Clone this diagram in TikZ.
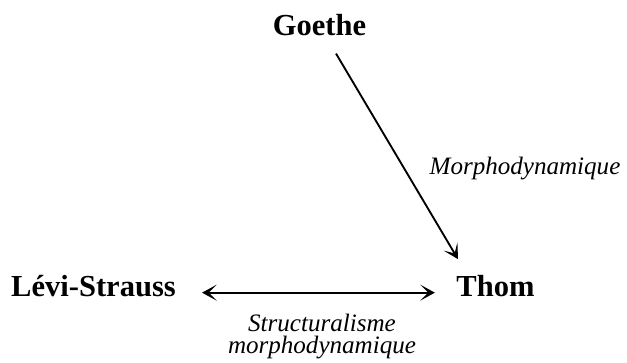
\documentclass[tikz,border=0pt]{standalone}
\usepackage{fontspec}
\setmainfont{Liberation Serif}
\usetikzlibrary{arrows.meta}

\begin{document}
\begin{tikzpicture}[x=0.75pt,y=-0.75pt,
    person/.style={font=\fontsize{22.9}{27}\selectfont\bfseries, inner sep=3pt, anchor=base},
    tag/.style={font=\fontsize{18.8}{16.5}\selectfont\itshape, inner sep=0pt, anchor=base},
    >={Stealth[length=11pt,width=12pt,inset=6pt]},
    arr/.style={line width=1.4pt}]
    \useasboundingbox (0,0) rectangle (627,363);
    % names
    \node[person] (goethe) at (319.5,35.5) {Goethe};
    \node[person] (levi) at (93.5,296) {Lévi-Strauss};
    \node[person] (thom) at (495.5,296) {Thom};
    % labels
    \node[tag] (morph) at (525,175) {Morphodynamique};
    \node[tag, align=center] (struct) at (322,353) {Structuralisme\\morphodynamique};
    % arrows
    \draw[arr, ->] ([shift={(16.5,13.5)}]goethe.south) -- ([shift={(-37.5,-11.4)}]thom.north);
    \draw[arr, <->] ([xshift=16.5pt,yshift=2.5pt]levi.base east) -- ([xshift=-13pt,yshift=2.5pt]thom.base west);
\end{tikzpicture}
\end{document}
